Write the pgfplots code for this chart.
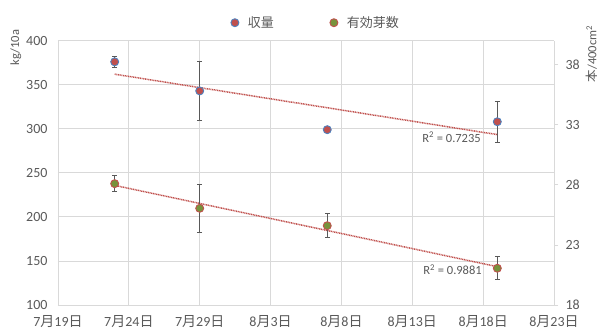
\documentclass[border=0pt]{standalone}
\usepackage{pgfplots}
\pgfplotsset{compat=1.18}
\usepackage{pgfplotstable}
\usepackage{fontspec}
\setmainfont{Carlito}
\newfontfamily\cjk{Noto Sans CJK JP}
\definecolor{txt}{HTML}{595959}
\definecolor{gridc}{HTML}{D9D9D9}
\definecolor{axred}{HTML}{C0504D}
\definecolor{axblue}{HTML}{4F81BD}
\definecolor{axgreen}{HTML}{77933C}
\definecolor{ebar}{HTML}{595959}

\pgfplotstableread{
x y e
4 376 6
10 343 33
19 299 0
31 308 23
}\yieldtab
\pgfplotstableread{
x y e
4 28.1 0.67
10 26.05 2.0
19 24.6 1.0
31 21.06 0.95
}\budtab

\pgfplotsset{
  common/.style={
    at={(0pt,0pt)}, anchor=south west,
    scale only axis, width=496pt, height=264.3pt,
    xmin=0, xmax=35,
    clip=false,
    ticklabel style={font=\fontsize{14}{16}\selectfont, text=txt},
    /pgf/number format/assume math mode=true,
  },
}
\begin{document}
\begin{tikzpicture}
\path[use as bounding box] (-58pt,-26pt) rectangle (541pt,305pt);
\begin{axis}[common,
  ymin=100, ymax=400,
  xtick={0,5,...,35},
  xticklabels={7{\cjk 月}19{\cjk 日},7{\cjk 月}24{\cjk 日},7{\cjk 月}29{\cjk 日},8{\cjk 月}3{\cjk 日},8{\cjk 月}8{\cjk 日},8{\cjk 月}13{\cjk 日},8{\cjk 月}18{\cjk 日},8{\cjk 月}23{\cjk 日}},
  ytick={100,150,...,400},
  grid=major, major grid style={gridc, line width=0.8pt},
  axis x line*=bottom, axis y line*=left,
  axis line style={gridc, line width=0.8pt},
  major tick length=0pt,
  xticklabel style={yshift=-7pt},
  yticklabel style={xshift=-7pt},
]
\addplot[axred, line width=1.5pt, dash pattern=on 1pt off 0.7pt] coordinates {(4,362.0) (31,293.4)};
\addplot[only marks, mark=*, mark size=4pt,
  mark options={fill=axred, draw=axblue, line width=0.9pt},
  error bars/.cd, y dir=both, y explicit,
  error bar style={ebar, line width=0.8pt},
  error mark options={rotate=90, ebar, mark size=2.5pt, line width=0.8pt}]
  table[x=x, y=y, y error=e] {\yieldtab};
\node[font=\fontsize{12.5}{14}\selectfont, text=txt] at (axis cs:27.77,290.4) {R\textsuperscript{2} = 0.7235};
\node[font=\fontsize{12.5}{14}\selectfont, text=txt] at (axis cs:27.84,139.7) {R\textsuperscript{2} = 0.9881};
\node[rotate=90, font=\fontsize{12.5}{14}\selectfont, text=txt] at (rel axis cs:-0.085,0.974) {kg/10a};
\node[rotate=90, font=\fontsize{12.5}{14}\selectfont, text=txt] at (rel axis cs:1.076,0.95) {{\cjk 本}/400cm\textsuperscript{2}};
\end{axis}
\begin{axis}[common,
  ymin=18, ymax=40,
  axis x line=none, axis y line*=right,
  ytick={18,23,28,33,38},
  axis line style={gridc, line width=0.8pt},
  tick align=outside, major tick length=4pt,
  ytick style={gridc, line width=0.8pt},
  yticklabel style={xshift=4pt},
  legend style={at={(0.52,1.068)}, anchor=center, draw=none, fill=none,
    font=\fontsize{13}{15}\selectfont, text=txt,
    /tikz/every even column/.append style={column sep=54pt}},
  legend columns=2,
]
\addlegendimage{only marks, mark=*, mark size=4pt, mark options={fill=axred, draw=axblue, line width=0.9pt}}
\addlegendentry{\hspace{7pt}{\cjk 収量}}
\addlegendimage{only marks, mark=*, mark size=4pt, mark options={fill=axgreen, draw=axred, line width=0.9pt}}
\addlegendentry{\hspace{7pt}{\cjk 有効芽数}}
\addplot[forget plot, axred, line width=1.5pt, dash pattern=on 1pt off 0.7pt] coordinates {(4,27.96) (31,21.19)};
\addplot[forget plot, only marks, mark=*, mark size=4pt,
  mark options={fill=axgreen, draw=axred, line width=0.9pt},
  error bars/.cd, y dir=both, y explicit,
  error bar style={ebar, line width=0.8pt},
  error mark options={rotate=90, ebar, mark size=2.5pt, line width=0.8pt}]
  table[x=x, y=y, y error=e] {\budtab};
\end{axis}
\end{tikzpicture}
\end{document}
